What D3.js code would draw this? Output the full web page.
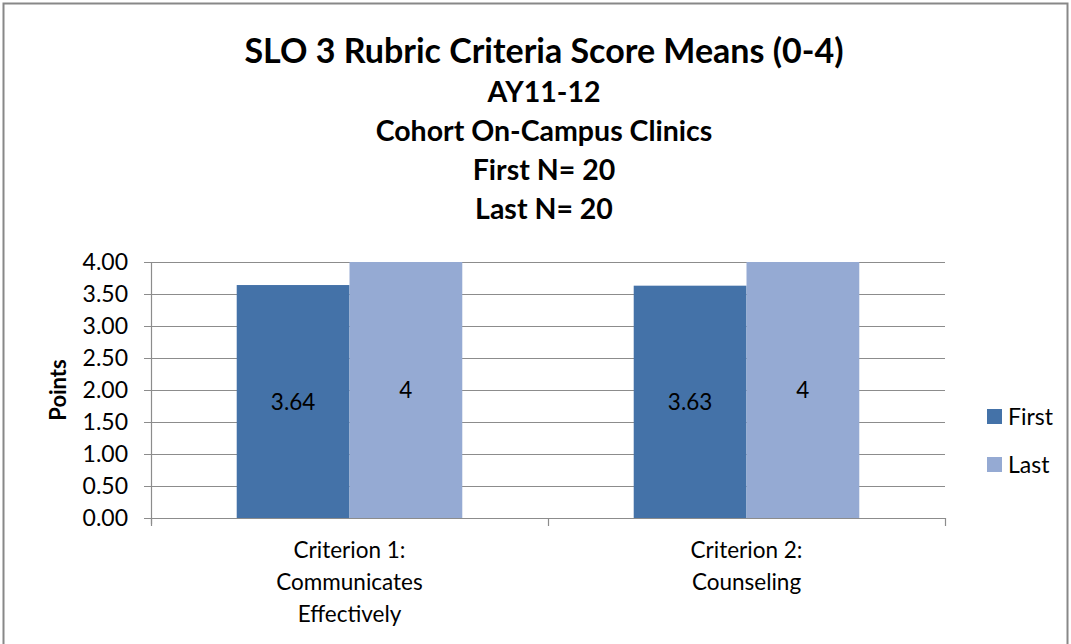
<!DOCTYPE html>
<html>
<head>
<meta charset="utf-8">
<script src="https://cdn.jsdelivr.net/npm/d3@7"></script>
<style>
  body { margin: 0; background: #fff; }
  text { font-family: Lato, "Open Sans", sans-serif; fill: #000; }
</style>
</head>
<body>
<script>
// chart data
var categories = [["Criterion 1:", "Communicates", "Effectively"], ["Criterion 2:", "Counseling"]];
var seriesNames = ["First", "Last"];
var firstValues = [3.64, 3.63];
var lastValues = [4, 4];
var yTicks = [0, 0.5, 1, 1.5, 2, 2.5, 3, 3.5, 4];
var titleLines = ["SLO 3 Rubric Criteria Score Means (0-4)", "AY11-12", "Cohort On-Campus Clinics", "First N= 20", "Last N= 20"];

var colors = ["#4472a8", "#95aad3"];
var W = 1071, H = 644;
var plotLeft = 151, plotRight = 945, plotTop = 262, plotBottom = 518;

var svg = d3.select("body").append("svg")
    .attr("width", W)
    .attr("height", H);

svg.append("rect")
    .attr("x", 3.5).attr("y", 3.5)
    .attr("width", W - 7).attr("height", H + 10)
    .attr("fill", "#fff")
    .attr("stroke", "#888")
    .attr("stroke-width", 2);

// titles
var titleY = [63, 102, 141, 180, 219];
svg.selectAll("text.title")
    .data(titleLines)
    .enter()
    .append("text")
    .attr("class", "title")
    .attr("x", 544)
    .attr("y", function(d, i) { return titleY[i]; })
    .attr("text-anchor", "middle")
    .style("font-weight", "bold")
    .style("font-size", function(d, i) { return i == 0 ? "34px" : "28.5px"; })
    .text(function(d) { return d; });

var x0 = d3.scaleBand()
    .domain(d3.range(categories.length))
    .range([plotLeft, plotRight]);

var x1 = d3.scaleBand()
    .domain(seriesNames)
    .range([0, x0.bandwidth()])
    .paddingOuter(0.76);

var y = d3.scaleLinear()
    .domain([0, 4])
    .range([plotBottom, plotTop]);

// gridlines
svg.selectAll("line.grid")
    .data(yTicks)
    .enter()
    .append("line")
    .attr("x1", plotLeft - 7)
    .attr("x2", plotRight)
    .attr("y1", function(d) { return Math.round(y(d)) + 0.5; })
    .attr("y2", function(d) { return Math.round(y(d)) + 0.5; })
    .attr("stroke", "#8c8c8c")
    .attr("stroke-width", 1.2);

svg.selectAll("text.ytick")
    .data(yTicks)
    .enter()
    .append("text")
    .attr("x", 128)
    .attr("y", function(d) { return y(d); })
    .attr("dy", "0.36em")
    .attr("text-anchor", "end")
    .style("font-size", "23px")
    .text(function(d) { return d.toFixed(2); });

// axis lines
svg.append("line")
    .attr("x1", plotLeft + 0.5).attr("x2", plotLeft + 0.5)
    .attr("y1", plotTop).attr("y2", plotBottom + 6)
    .attr("stroke", "#8c8c8c").attr("stroke-width", 1.2);

var xTicks = [plotLeft, (plotLeft + plotRight) / 2, plotRight];
svg.selectAll("line.xtick")
    .data(xTicks)
    .enter()
    .append("line")
    .attr("x1", function(d) { return Math.round(d) + 0.5; })
    .attr("x2", function(d) { return Math.round(d) + 0.5; })
    .attr("y1", plotBottom)
    .attr("y2", plotBottom + 8)
    .attr("stroke", "#8c8c8c").attr("stroke-width", 1.2);

svg.append("text")
    .attr("transform", "translate(66,390) rotate(-90)")
    .attr("text-anchor", "middle")
    .style("font-weight", "bold")
    .style("font-size", "22px")
    .text("Points");

// bars
var rows = categories.map(function(c, i) {
    return [{ s: "First", v: firstValues[i] }, { s: "Last", v: lastValues[i] }];
});

var groups = svg.selectAll("g.cat")
    .data(rows)
    .enter()
    .append("g")
    .attr("transform", function(d, i) { return "translate(" + x0(i) + ",0)"; });

groups.selectAll("rect")
    .data(function(d) { return d; })
    .enter()
    .append("rect")
    .attr("x", function(d) { return x1(d.s); })
    .attr("width", x1.bandwidth())
    .attr("y", function(d) { return y(d.v); })
    .attr("height", function(d) { return plotBottom - y(d.v); })
    .attr("fill", function(d, i) { return colors[i]; });

groups.selectAll("text.val")
    .data(function(d) { return d; })
    .enter()
    .append("text")
    .attr("x", function(d) { return x1(d.s) + x1.bandwidth() / 2; })
    .attr("y", function(d) { return (y(d.v) + plotBottom) / 2; })
    .attr("dy", "0.36em")
    .attr("text-anchor", "middle")
    .style("font-size", "22.5px")
    .text(function(d) { return d.v; });

// category labels
var labels = svg.selectAll("text.cat")
    .data(categories)
    .enter()
    .append("text")
    .attr("text-anchor", "middle")
    .style("font-size", "22.5px")
    .attr("x", function(d, i) { return x0(i) + x0.bandwidth() / 2; })
    .attr("y", 558);

labels.selectAll("tspan")
    .data(function(d) { return d; })
    .enter()
    .append("tspan")
    .attr("x", function() { return d3.select(this.parentNode).attr("x"); })
    .attr("dy", function(d, i) { return i == 0 ? 0 : 32; })
    .text(function(d) { return d; });

// legend
var legend = svg.selectAll("g.legend")
    .data(seriesNames)
    .enter()
    .append("g")
    .attr("transform", function(d, i) { return "translate(987," + (409 + i * 48) + ")"; });

legend.append("rect")
    .attr("width", 15).attr("height", 15)
    .attr("fill", function(d, i) { return colors[i]; });

legend.append("text")
    .attr("x", 21).attr("y", 8)
    .attr("dy", "0.36em")
    .style("font-size", "23px")
    .text(function(d) { return d; });
</script>
</body>
</html>
